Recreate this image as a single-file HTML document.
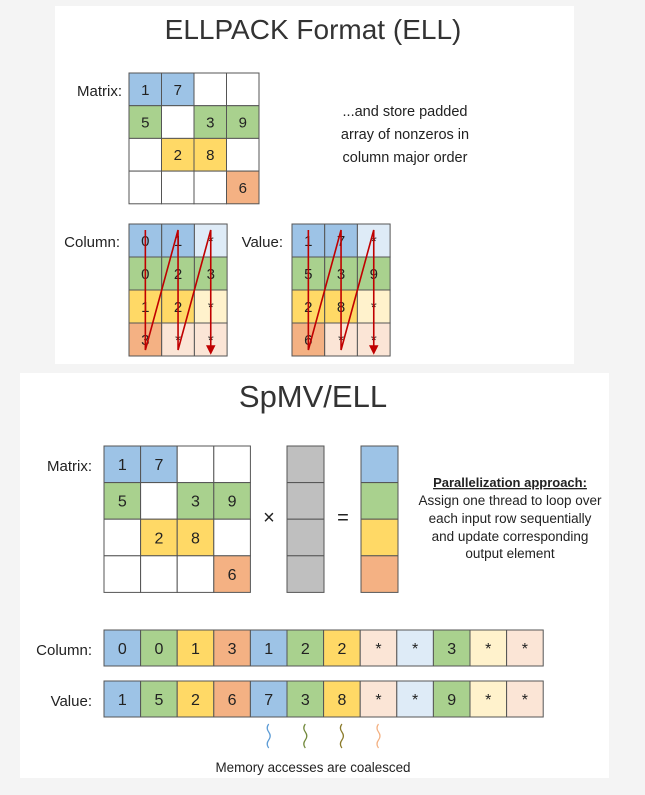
<!DOCTYPE html>
<html><head><meta charset="utf-8"><style>
html,body{margin:0;padding:0;background:#f4f4f4;}
svg{display:block;font-family:"Liberation Sans",sans-serif;}
</style></head><body>
<svg id="s" width="645" height="795" viewBox="0 0 645 795">
<defs><marker id="ah" markerWidth="6" markerHeight="6" refX="3" refY="3" orient="auto"><path d="M0,0 L6,3 L0,6 Z" fill="#c00000"/></marker></defs>
<rect x="55" y="6" width="519" height="358" fill="#fff"/>
<rect x="20" y="373" width="589" height="405" fill="#fff"/>
<text x="313" y="39" font-size="28" text-anchor="middle" fill="#333">ELLPACK Format (ELL)</text>
<text x="122" y="96" font-size="15" text-anchor="end" fill="#222">Matrix:</text>
<text x="120" y="247" font-size="15" text-anchor="end" fill="#222">Column:</text>
<text x="283" y="247" font-size="15" text-anchor="end" fill="#222">Value:</text>
<g font-size="14.5" text-anchor="middle" fill="#222">
<text x="405" y="116">...and store padded</text><text x="405" y="139">array of nonzeros in</text><text x="405" y="162">column major order</text></g>
<text x="313" y="407" font-size="31" text-anchor="middle" fill="#333">SpMV/ELL</text>
<text x="92" y="471" font-size="15" text-anchor="end" fill="#222">Matrix:</text>
<text x="269" y="524" font-size="20" text-anchor="middle" fill="#222">×</text>
<text x="343" y="524" font-size="20" text-anchor="middle" fill="#222">=</text>
<g text-anchor="middle" fill="#222">
<text x="510" y="487" font-size="13" font-weight="bold" text-decoration="underline">Parallelization approach:</text>
<g font-size="13.5"><text x="510" y="505">Assign one thread to loop over</text><text x="510" y="523">each input row sequentially</text>
<text x="510" y="541">and update corresponding</text><text x="510" y="558">output element</text></g></g>
<text x="92" y="655" font-size="15" text-anchor="end" fill="#222">Column:</text>
<text x="92" y="706" font-size="15" text-anchor="end" fill="#222">Value:</text>
<text x="313" y="772" font-size="13.4" text-anchor="middle" fill="#222">Memory accesses are coalesced</text>
</svg>
<script>
const matVals=[["1","7","",""],["5","","3","9"],["","2","8",""],["","","","6"]];
const rowColors=["#9dc3e6","#a9d18e","#ffd966","#f4b183"];
const padColors=["#deebf7","#a9d18e","#fff2cc","#fbe5d6"];
const colIdx=[["0","1","*"],["0","2","3"],["1","2","*"],["3","*","*"]];
const valArr=[["1","7","*"],["5","3","9"],["2","8","*"],["6","*","*"]];
const flatCol=["0","0","1","3","1","2","2","*","*","3","*","*"];
const flatVal=["1","5","2","6","7","3","8","*","*","9","*","*"];
const flatColor=["#9dc3e6","#a9d18e","#ffd966","#f4b183","#9dc3e6","#a9d18e","#ffd966","#fbe5d6","#deebf7","#a9d18e","#fff2cc","#fbe5d6"];
const squigColors=["#5b9bd5","#70883a","#8a7a2a","#f4b183"];
const svg=document.getElementById('s');const NS='http://www.w3.org/2000/svg';
function el(t,a,p){const e=document.createElementNS(NS,t);for(const k in a)e.setAttribute(k,a[k]);(p||svg).appendChild(e);return e;}
function cell(x,y,w,h,fill,txt,fs,name){
 const g=el('g',{});
 
 
 el('rect',{x,y,width:w,height:h,fill,stroke:'#555','stroke-width':1},g);
 if(txt){const t=el('text',{x:x+w/2,y:y+h/2+fs*0.36,'font-size':fs,'text-anchor':'middle',fill:'#222'},g);t.textContent=txt;}
}
function matrix(x0,y0,cw,ch,fs,pre){
 for(let r=0;r<4;r++)for(let c=0;c<4;c++){const v=matVals[r][c];cell(x0+c*cw,y0+r*ch,cw,ch,v?rowColors[r]:'#fff',v,fs,pre+'-cell');}
}
matrix(129,73,32.5,32.7,15,'top-matrix');
function ell(x0,y0,arr,pre){
 const cw=32.7,ch=33;
 for(let r=0;r<4;r++)for(let c=0;c<3;c++){const v=arr[r][c];cell(x0+c*cw,y0+r*ch,cw,ch,v==='*'?padColors[r]:rowColors[r],v,15,pre+'-cell');}
 let d='';for(let c=0;c<3;c++){const x=x0+c*cw+cw/2;d+=(c?'L':'M')+x+','+(y0+6)+' L'+x+','+(y0+4*ch-6)+' ';}
 const p=el('path',{d,fill:'none',stroke:'#c00000','stroke-width':1.6,'marker-end':'url(#ah)'});
 
 
}
ell(129,224,colIdx,'column-array-top');
ell(292,224,valArr,'value-array-top');
matrix(104,446,36.6,36.6,16,'bottom-matrix');
for(let r=0;r<4;r++){cell(287,446+r*36.6,37,36.6,'#bfbfbf','',15,'input-vector-cell');cell(361,446+r*36.6,37,36.6,rowColors[r],'',15,'output-vector-cell');}
for(let i=0;i<12;i++){cell(104+i*36.6,630,36.6,36,flatColor[i],flatCol[i],16,'column-array-cell');cell(104+i*36.6,681,36.6,36,flatColor[i],flatVal[i],16,'value-array-cell');}
for(let i=0;i<4;i++){const x=104+(4+i)*36.6+18.3;
 const p=el('path',{d:`M${x},724 q-3,4 0,8 q3,4 0,8 q-3,4 0,8`,fill:'none',stroke:squigColors[i],'stroke-width':1.3});
 
 
}
</script>
</body></html>
